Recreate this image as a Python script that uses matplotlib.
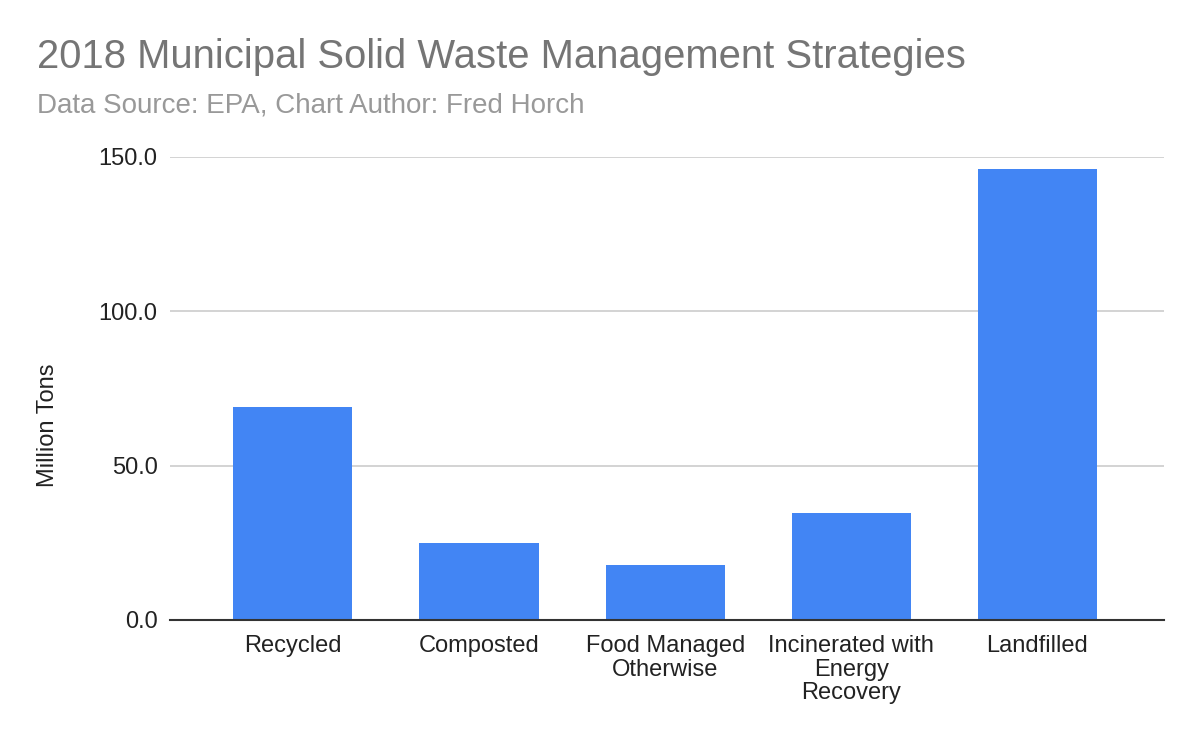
import matplotlib
matplotlib.use("Agg")
import matplotlib.pyplot as plt

categories = ["Recycled", "Composted", "Food Managed\nOtherwise",
              "Incinerated with\nEnergy\nRecovery", "Landfilled"]
values = [69.1, 24.9, 17.7, 34.6, 146.1]
yticks = [0, 50, 100, 150]
ytick_labels = ["0.0", "50.0", "100.0", "150.0"]

plt.rcParams['font.family'] = ['Liberation Sans', 'DejaVu Sans']

fig = plt.figure(figsize=(12, 7.42), dpi=100)
W, H = 1200, 742
left, right, top, bottom = 170, 1164, 156.7, 620
ax = fig.add_axes([left / W, 1 - bottom / H, (right - left) / W, (bottom - top) / H])

x = list(range(len(categories)))
ax.bar(x, values, width=0.64, color="#4285f4", zorder=2)
ax.set_xlim(-0.66, 4.68)
ax.set_ylim(0, 150)
ax.set_yticks(yticks)
ax.set_yticklabels(ytick_labels, fontsize=17, color="#222222")
ax.set_xticks(x)
ax.set_xticklabels(categories, fontsize=17, color="#222222", linespacing=1.08)
ax.tick_params(axis="y", length=0, pad=9)
ax.tick_params(axis="x", length=0, pad=11)
ax.grid(axis="y", color="#cccccc", linewidth=1.2, zorder=0)
for s in ["top", "right", "left"]:
    ax.spines[s].set_visible(False)
ax.spines["bottom"].set_color("#333333")
ax.spines["bottom"].set_linewidth(1.5)
ax.spines["bottom"].set_zorder(3)

fig.text(48 / W, 1 - 425 / H, "Million Tons", fontsize=17, color="#222222",
         rotation=90, va="center", ha="center")

fig.text(37 / W, 1 - 57 / H, "2018 Municipal Solid Waste Management Strategies",
         fontsize=28.8, color="#757575", va="center", ha="left")
fig.text(37 / W, 1 - 105 / H, "Data Source: EPA, Chart Author: Fred Horch",
         fontsize=20, color="#999999", va="center", ha="left")

fig.savefig("out.png", dpi=100, facecolor="white")
